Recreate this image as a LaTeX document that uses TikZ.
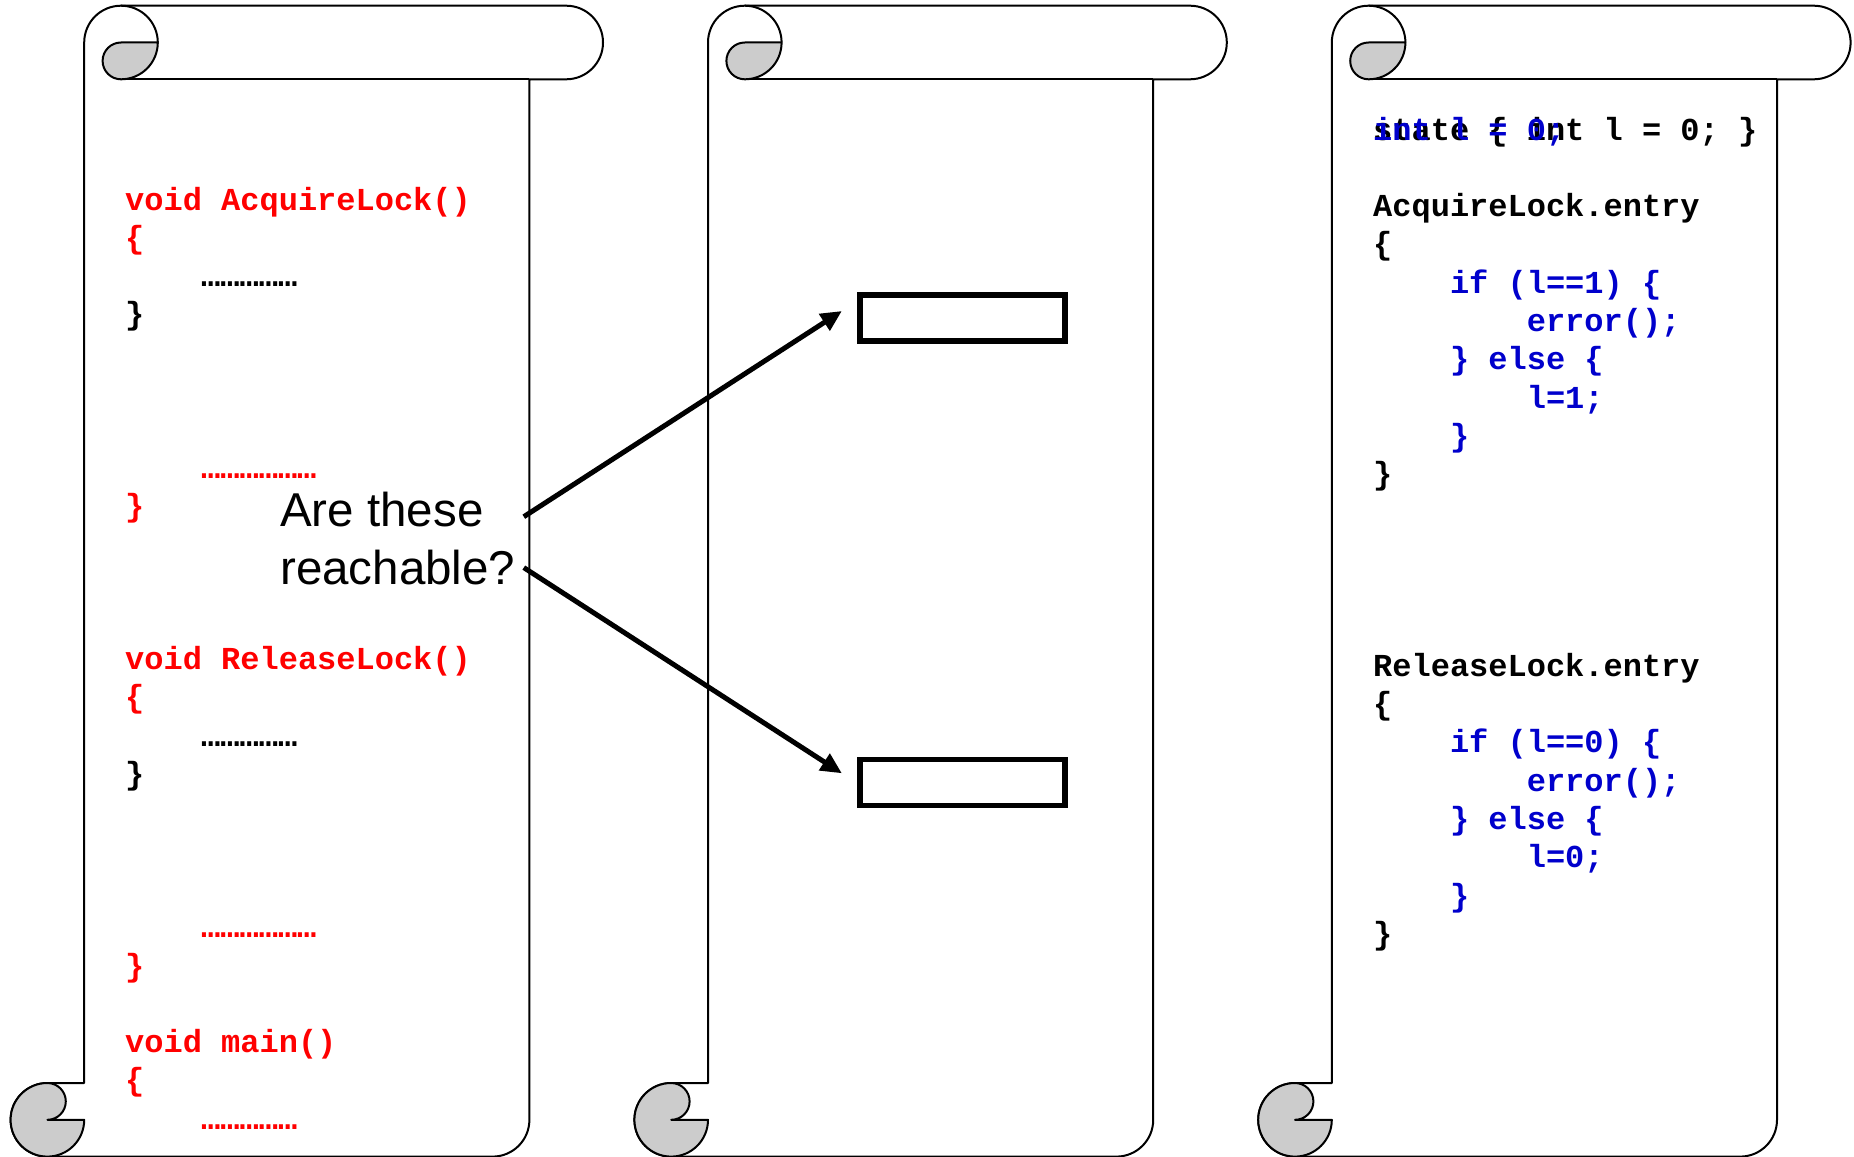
\documentclass[tikz,border=0pt]{standalone}
\usepackage{fontspec}
\setmonofont{Liberation Mono}
\setsansfont{Liberation Sans}
\usetikzlibrary{arrows.meta}

\definecolor{codered}{RGB}{255,0,0}
\definecolor{codeblue}{RGB}{0,0,204}
\definecolor{curlgray}{RGB}{204,204,204}

\tikzset{
  scrollline/.style={draw=black, line width=2pt, line join=round},
  curlfill/.style={scrollline, fill=curlgray},
  code/.style={anchor=base west, inner sep=0pt,
    font=\ttfamily\bfseries\fontsize{32}{38}\selectfont},
  redcode/.style={code, text=codered},
  bluecode/.style={code, text=codeblue},
  blackcode/.style={code, text=black},
  question/.style={anchor=base west, inner sep=0pt,
    font=\sffamily\fontsize{47.5}{58}\selectfont},
  slot/.style={draw=black, line width=5.5pt, minimum width=205pt,
    minimum height=46pt, inner sep=0pt},
  reach/.style={line width=5pt, -{Triangle[length=21pt,width=19pt]}},
}

% one paper scroll; #1 = horizontal offset
\newcommand\scrollsheet[1]{%
  \begin{scope}[xshift=#1pt]
    % sheet body with top roll
    \path[scrollline, fill=white]
      (84.2,42.5) arc[start angle=180, end angle=270, radius=36.8]
      -- (566.2,5.7) arc[start angle=-90, end angle=90, radius=36.8]
      -- (529.4,79.3) -- (529.4,1119.8)
      arc[start angle=0, end angle=90, radius=36.8]
      -- (47.4,1156.6) arc[start angle=90, end angle=270, radius=36.8]
      -- (84.2,1083) -- cycle;
    \draw[scrollline] (121,79.3) -- (529.4,79.3);
    % top curl
    \path[curlfill] (121,42.5) -- (157.8,42.5)
      arc[start angle=0, end angle=90, radius=36.8]
      arc[start angle=90, end angle=270, radius=18.4] -- cycle;
    \draw[scrollline] (121,5.7) arc[start angle=270, end angle=360, radius=36.8];
    % bottom curl
    \path[curlfill] (47.4,1083)
      arc[start angle=270, end angle=0, radius=36.8]
      -- (47.4,1119.8)
      arc[start angle=90, end angle=-90, radius=18.4] -- cycle;
  \end{scope}}

\begin{document}
\begin{tikzpicture}[x=1pt, y=-1pt]
  \useasboundingbox[fill=white] (0,0) rectangle (1854,1156);

  \scrollsheet{0}
  \scrollsheet{623.8}
  \scrollsheet{1247.6}

  % C source
  \node[redcode]   (srcA0) at (125,210)    {void AcquireLock()};
  \node[redcode]   (srcA1) at (125,248.3)  {\{};
  \node[blackcode] (srcA2) at (201,286.6) {……………};
  \node[blackcode] (srcA3) at (125,324.9)  {\}};
  \node[redcode]   (srcA4) at (201,478.1) {………………};
  \node[redcode]   (srcA5) at (125,516.4)  {\}};
  \node[redcode]   (srcR0) at (125,669.6)  {void ReleaseLock()};
  \node[redcode]   (srcR1) at (125,707.9)  {\{};
  \node[blackcode] (srcR2) at (201,746.2) {……………};
  \node[blackcode] (srcR3) at (125,784.5)  {\}};
  \node[redcode]   (srcR4) at (201,937.7) {………………};
  \node[redcode]   (srcR5) at (125,976)    {\}};
  \node[redcode]   (srcM0) at (125,1052.6) {void main()};
  \node[redcode]   (srcM1) at (125,1090.9) {\{};
  \node[redcode]   (srcM2) at (201,1129.2) {……………};

  % question
  \node[question] (qa) at (280,526) {Are these};
  \node[question] (qb) at (280,584) {reachable?};

  % empty slots in the middle sheet
  \node[slot] (slotA) at (962.5,318) {};
  \node[slot] (slotR) at (962.5,782.5) {};

  \coordinate (qaEnd) at (523.8,516.7);
  \coordinate (qbEnd) at (523.8,567.6);
  \coordinate (slotAIn) at (841.9,311);
  \coordinate (slotRIn) at (841.9,773.3);
  \draw[reach] (qaEnd) -- (slotAIn);
  \draw[reach] (qbEnd) -- (slotRIn);

  % SLIC specification
  \node[blackcode] (specS)  at (1373,140) {state~\{~int~l~=~0;~\}};
  \node[bluecode]  (specSb) at (1373,140) {int~l~=~0;};
  \node[blackcode] (specA0) at (1373,216.6) {AcquireLock.entry};
  \node[blackcode] (specA1) at (1373,254.9) {\{};
  \node[bluecode]  (specA2) at (1449.8,293.2) {if~(l==1)~\{};
  \node[bluecode]  (specA3) at (1526.6,331.5) {error();};
  \node[bluecode]  (specA4) at (1449.8,369.8) {\}~else~\{};
  \node[bluecode]  (specA5) at (1526.6,408.1) {l=1;};
  \node[bluecode]  (specA6) at (1449.8,446.4) {\}};
  \node[blackcode] (specA7) at (1373,484.7) {\}};
  \node[blackcode] (specR0) at (1373,676.2) {ReleaseLock.entry};
  \node[blackcode] (specR1) at (1373,714.5) {\{};
  \node[bluecode]  (specR2) at (1449.8,752.8) {if~(l==0)~\{};
  \node[bluecode]  (specR3) at (1526.6,791.1) {error();};
  \node[bluecode]  (specR4) at (1449.8,829.4) {\}~else~\{};
  \node[bluecode]  (specR5) at (1526.6,867.7) {l=0;};
  \node[bluecode]  (specR6) at (1449.8,906) {\}};
  \node[blackcode] (specR7) at (1373,944.3) {\}};
\end{tikzpicture}
\end{document}
